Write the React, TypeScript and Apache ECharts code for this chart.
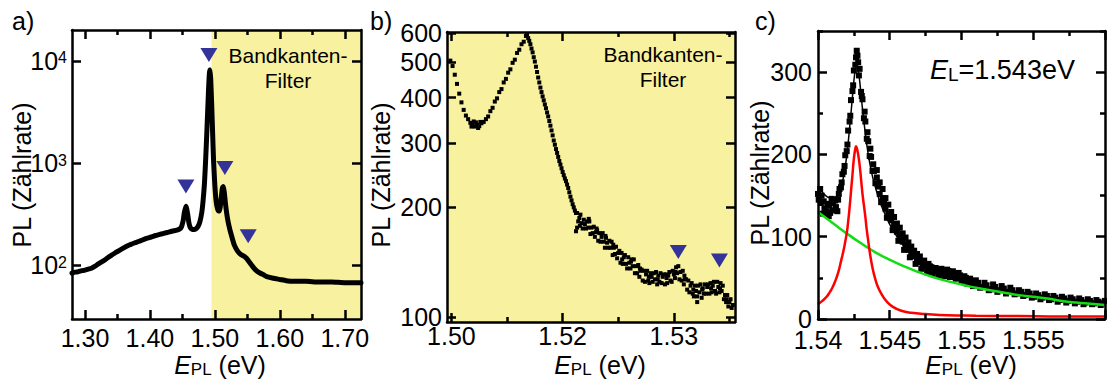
import React, { useEffect, useRef } from 'react';
import * as echarts from 'echarts';

const FONT = '"Liberation Sans", Arial, Helvetica, sans-serif';
const YELLOW = '#f8f19f';
const MARK = '#333399';
const TICK_FONT = 25;

// ---------- panel a: overview spectrum (log scale) ----------
const aSpectrum: [number, number][] = [
  [1.280, 84], [1.285, 86], [1.290, 87], [1.295, 89], [1.300, 90], [1.305, 92], [1.310, 94],
  [1.315, 98], [1.320, 103], [1.325, 108], [1.330, 113], [1.335, 119], [1.340, 125],
  [1.345, 131], [1.350, 137], [1.355, 143], [1.360, 149], [1.365, 155], [1.370, 160],
  [1.375, 165], [1.380, 169], [1.385, 174], [1.390, 179], [1.395, 184], [1.400, 188],
  [1.405, 193], [1.410, 197], [1.415, 201], [1.420, 205], [1.425, 209], [1.430, 213],
  [1.435, 217], [1.440, 220], [1.445, 226], [1.448, 234], [1.451, 270], [1.453, 330],
  [1.4555, 380], [1.458, 320], [1.460, 262], [1.462, 236], [1.465, 226], [1.468, 225],
  [1.471, 229], [1.474, 240], [1.477, 268], [1.480, 335], [1.482, 440], [1.484, 640],
  [1.486, 1150], [1.488, 2300], [1.490, 4800], [1.4915, 7500], [1.4925, 8200],
  [1.4935, 6800], [1.495, 3900], [1.4965, 2000], [1.498, 1050], [1.500, 600],
  [1.502, 420], [1.504, 360], [1.506, 340], [1.508, 365], [1.510, 470], [1.5115, 570],
  [1.513, 590], [1.5145, 520], [1.516, 420], [1.518, 330], [1.520, 275], [1.523, 225],
  [1.526, 192], [1.530, 158], [1.535, 138], [1.540, 128], [1.545, 123], [1.549, 117],
  [1.553, 108], [1.557, 100], [1.561, 93], [1.565, 88], [1.570, 84], [1.575, 81],
  [1.580, 78], [1.590, 75], [1.600, 73], [1.610, 71], [1.620, 70], [1.640, 70],
  [1.660, 69], [1.680, 69], [1.700, 68], [1.725, 68],
];
const aMarkers: [number, number][] = [[1.4908, 11400], [1.4554, 590], [1.5154, 898], [1.5513, 193]];
const aFilterStart = 1.4948;
const aXMajor = [1.3, 1.4, 1.5, 1.6, 1.7];
const aXMinor = [1.35, 1.45, 1.55, 1.65];
const aYMajor = [100, 1000, 10000];

// ---------- panel b: zoom on filter region (log scale) ----------
const bSpectrum: [number, number][] = [
  [1.5099, 505], [1.5101, 488], [1.5103, 462], [1.5105, 436], [1.5107, 410], [1.5109, 388],
  [1.5111, 370], [1.5113, 357], [1.5115, 349], [1.5117, 341], [1.5118, 333], [1.5119, 338],
  [1.5120, 344], [1.5121, 333], [1.5122, 342], [1.5123, 337], [1.5124, 330], [1.5125, 334],
  [1.5126, 343], [1.5127, 340], [1.5129, 343], [1.5131, 349], [1.5133, 355], [1.5135, 367],
  [1.5137, 375], [1.5139, 390], [1.5141, 398], [1.5143, 414], [1.5145, 422], [1.5147, 440],
  [1.5149, 450], [1.5151, 468], [1.5153, 478], [1.5155, 498], [1.5157, 508], [1.5159, 530],
  [1.5161, 541], [1.5163, 560], [1.5165, 569], [1.5167, 590], [1.5168, 596],
  [1.5169, 582], [1.5170, 572], [1.5171, 560], [1.5172, 545], [1.5173, 532], [1.5174, 516],
  [1.5175, 502], [1.5176, 486], [1.5177, 470], [1.5178, 454], [1.5179, 440], [1.5180, 426],
  [1.5181, 414], [1.5182, 403], [1.5183, 393], [1.5184, 383], [1.5185, 374], [1.5186, 364],
  [1.5187, 355], [1.5188, 345], [1.5189, 335], [1.5190, 325], [1.5191, 315], [1.5192, 305],
  [1.5193, 297], [1.5194, 289], [1.5195, 282], [1.5196, 275], [1.5197, 268], [1.5198, 262],
  [1.5199, 256], [1.5200, 250], [1.5201, 245], [1.5202, 240], [1.5203, 236], [1.5204, 231],
  [1.5205, 226], [1.5206, 220], [1.5207, 214], [1.5208, 209], [1.5209, 204], [1.5210, 200],
  [1.5211, 196], [1.5212, 193], [1.5212, 172], [1.5213, 176],
  [1.5213, 193], [1.5214, 183], [1.5215, 187], [1.5216, 191], [1.5217, 181], [1.5218, 175],
  [1.5219, 185], [1.5220, 180], [1.5221, 175], [1.5222, 183], [1.5223, 176], [1.5224, 183],
  [1.5225, 169], [1.5226, 176], [1.5227, 170], [1.5228, 177], [1.5229, 166], [1.5230, 171],
  [1.5231, 173], [1.5232, 162], [1.5233, 170], [1.5234, 161], [1.5235, 166], [1.5236, 170],
  [1.5237, 161], [1.5238, 155], [1.5239, 165], [1.5240, 160], [1.5241, 155], [1.5242, 162],
  [1.5243, 155], [1.5244, 161], [1.5245, 148], [1.5246, 155], [1.5247, 149], [1.5248, 156],
  [1.5249, 145], [1.5250, 150], [1.5251, 152], [1.5252, 141], [1.5253, 150], [1.5254, 140],
  [1.5255, 146], [1.5256, 148], [1.5257, 140], [1.5258, 136], [1.5259, 146], [1.5260, 141],
  [1.5261, 136], [1.5262, 144], [1.5263, 138], [1.5264, 144], [1.5265, 132], [1.5266, 138],
  [1.5267, 132], [1.5268, 139], [1.5269, 129], [1.5270, 134], [1.5271, 135], [1.5272, 126],
  [1.5273, 134], [1.5274, 125], [1.5275, 131], [1.5276, 134], [1.5277, 126], [1.5278, 124],
  [1.5279, 132], [1.5280, 129], [1.5281, 125], [1.5282, 132], [1.5283, 127], [1.5284, 133],
  [1.5285, 123], [1.5286, 130], [1.5287, 125], [1.5288, 132], [1.5289, 124], [1.5290, 129],
  [1.5291, 131], [1.5292, 123], [1.5293, 131], [1.5294, 124], [1.5295, 130], [1.5296, 133],
  [1.5297, 126], [1.5298, 125], [1.5299, 134], [1.5300, 131], [1.5301, 128], [1.5302, 137],
  [1.5303, 132], [1.5304, 138], [1.5305, 127], [1.5306, 133], [1.5307, 126], [1.5308, 134],
  [1.5309, 123], [1.5310, 127], [1.5311, 127], [1.5312, 119], [1.5313, 126], [1.5314, 117],
  [1.5315, 122], [1.5316, 124], [1.5317, 116], [1.5318, 114], [1.5319, 122], [1.5320, 118],
  [1.5321, 114], [1.5322, 122], [1.5323, 117], [1.5324, 123], [1.5325, 113], [1.5326, 120],
  [1.5327, 116], [1.5328, 123], [1.5329, 116], [1.5330, 121], [1.5331, 123], [1.5332, 116],
  [1.5333, 124], [1.5334, 117], [1.5335, 122], [1.5336, 125], [1.5337, 118], [1.5338, 116],
  [1.5339, 125], [1.5340, 121], [1.5341, 117], [1.5342, 124], [1.5343, 118], [1.5344, 122],
  [1.5345, 112], [1.5346, 115], [1.5347, 110], [1.5348, 115], [1.5349, 107], [1.5350, 110],
  [1.5351, 112], [1.5352, 106], [1.5353, 108],
  [1.52155, 178], [1.52235, 186], [1.52305, 175], [1.52385, 167], [1.52455, 158],
  [1.52535, 144], [1.52615, 142], [1.52695, 136], [1.52775, 129], [1.52855, 127],
  [1.52935, 128], [1.53015, 133], [1.53095, 130], [1.53175, 119], [1.53255, 119],
  [1.53335, 120], [1.53415, 120], [1.53475, 112], [1.5321, 110],
];
const bMarkers: [number, number][] = [[1.5304, 151], [1.5341, 143]];
const bXMajor = [1.51, 1.52, 1.53];
const bXMajorLabels = ['1.50', '1.52', '1.53'];
const bXMinor = [1.515, 1.525, 1.535];
const bYMajor = [100, 200, 300, 400, 500, 600];

// ---------- panel c: fit at E_L = 1.543 eV (linear) ----------
const cData: [number, number][] = [
  [1.5400, 152], [1.5402, 141], [1.5404, 143], [1.5406, 131], [1.5408, 138], [1.5410, 132],
  [1.5412, 144], [1.5414, 145], [1.5415, 158], [1.5416, 160], [1.5417, 176], [1.5418, 179],
  [1.5419, 199], [1.5420, 204], [1.5421, 229], [1.5422, 240], [1.5423, 266], [1.5424, 277],
  [1.5425, 302], [1.5426, 309], [1.5427, 326], [1.5428, 312], [1.5429, 304], [1.5430, 276],
  [1.5431, 267], [1.5432, 244], [1.5433, 240], [1.5434, 219], [1.5435, 216], [1.5436, 198],
  [1.5437, 197], [1.5438, 180], [1.5439, 180], [1.5440, 165], [1.5442, 161], [1.5444, 142],
  [1.5446, 140], [1.5448, 123], [1.5450, 123], [1.5452, 108], [1.5454, 109], [1.5456, 95],
  [1.5458, 97], [1.5460, 84], [1.5462, 87], [1.5464, 75], [1.5466, 79], [1.5468, 67],
  [1.5470, 72], [1.5472, 61], [1.5474, 67], [1.5476, 57], [1.5478, 64], [1.5480, 55],
  [1.5482, 62], [1.5484, 53], [1.5486, 61], [1.5488, 52], [1.5490, 60], [1.5492, 51],
  [1.5494, 58], [1.5496, 49], [1.5498, 56], [1.5500, 46], [1.5502, 52], [1.5504, 43],
  [1.5506, 49], [1.5508, 40], [1.5510, 47], [1.5513, 38], [1.5516, 44], [1.5519, 35],
  [1.5522, 42], [1.5525, 33], [1.5528, 40], [1.5531, 31], [1.5534, 38], [1.5537, 30],
  [1.5540, 35], [1.5543, 28], [1.5546, 33], [1.5549, 26], [1.5552, 31], [1.5555, 24],
  [1.5558, 30], [1.5561, 23], [1.5564, 28], [1.5567, 21], [1.5570, 27], [1.5573, 20],
  [1.5576, 26], [1.5579, 19], [1.5582, 25], [1.5585, 18], [1.5588, 24], [1.5591, 18],
  [1.5594, 23], [1.5597, 17], [1.5600, 22],
  [1.54005, 145], [1.54025, 150], [1.54045, 134], [1.54065, 140], [1.54085, 129],
  [1.54105, 141], [1.54125, 136], [1.54145, 152], [1.54165, 166], [1.54185, 186],
  [1.54205, 212], [1.54225, 247], [1.54245, 284], [1.54265, 318], [1.54275, 320],
  [1.54285, 296], [1.54305, 271], [1.54325, 252], [1.54345, 227], [1.54365, 207],
  [1.54385, 188], [1.5441, 172], [1.5443, 152], [1.5445, 147], [1.5447, 134], [1.5449, 128],
  [1.5451, 120], [1.5453, 113], [1.5455, 106], [1.5457, 100], [1.5459, 94], [1.5461, 90],
  [1.5463, 84], [1.5465, 81], [1.5467, 76], [1.5469, 73], [1.5471, 69], [1.5473, 66],
  [1.5475, 64], [1.5477, 61], [1.5479, 63], [1.5481, 58], [1.5483, 60], [1.5485, 55],
  [1.5487, 59], [1.5489, 54], [1.5491, 58], [1.5493, 53], [1.5495, 55], [1.5497, 51],
  [1.5499, 53], [1.5501, 48], [1.5503, 50], [1.5505, 44], [1.5507, 46], [1.5509, 42],
  [1.55115, 44], [1.55145, 39], [1.55175, 41], [1.55205, 36], [1.55235, 39], [1.55265, 35],
  [1.55295, 37], [1.55325, 33], [1.55355, 35], [1.55385, 31], [1.55415, 33], [1.55445, 29],
  [1.55475, 31], [1.55505, 27], [1.55535, 29], [1.55565, 26], [1.55595, 28], [1.55625, 24],
  [1.55655, 26], [1.55685, 23], [1.55715, 25], [1.55745, 22], [1.55775, 24], [1.55805, 21],
  [1.55835, 23], [1.55865, 20], [1.55895, 22], [1.55925, 19], [1.55955, 21], [1.55985, 19],
  [1.5441, 181], [1.5443, 166], [1.5445, 158], [1.5447, 147], [1.5449, 139], [1.5451, 130],
  [1.5453, 124], [1.5455, 116], [1.5457, 111], [1.5459, 104], [1.5461, 99], [1.5463, 93],
  [1.5465, 88], [1.5467, 83], [1.5469, 79], [1.5471, 76], [1.5474, 71], [1.5477, 67],
  [1.54015, 158], [1.54035, 128], [1.54075, 125], [1.54095, 146], [1.54135, 131],
];
const cFit: [number, number][] = [
  [1.5400, 160], [1.5403, 154], [1.5406, 149], [1.5409, 147], [1.5412, 148], [1.5414, 152],
  [1.5416, 160], [1.5418, 175], [1.5420, 198], [1.5422, 232], [1.5424, 270], [1.5425, 289],
  [1.5426, 303], [1.5427, 308], [1.5428, 302], [1.5429, 290], [1.5430, 272], [1.5432, 240],
  [1.5434, 212], [1.5436, 190], [1.5438, 173], [1.5440, 160], [1.5443, 143], [1.5446, 130],
  [1.5450, 115], [1.5455, 100], [1.5460, 88], [1.5466, 77], [1.5472, 68], [1.5480, 60],
  [1.5490, 52], [1.5500, 46], [1.5515, 40], [1.5530, 35], [1.5545, 31], [1.5560, 27],
  [1.5575, 24], [1.5590, 22], [1.5600, 21],
];
const cPeak: [number, number][] = [
  [1.5400, 18], [1.5403, 22], [1.5406, 27], [1.5408, 32], [1.5410, 38], [1.5412, 46],
  [1.5414, 56], [1.5416, 70], [1.5418, 85], [1.5420, 104], [1.5421, 118], [1.5422, 135],
  [1.5423, 155], [1.5424, 175], [1.5425, 195], [1.5426, 207], [1.54265, 210], [1.5427, 208],
  [1.5428, 200], [1.5429, 187], [1.5430, 170], [1.5431, 152], [1.5432, 138], [1.5433, 124],
  [1.5434, 108], [1.5435, 95], [1.5436, 82], [1.5438, 62], [1.5440, 48], [1.5442, 38],
  [1.5445, 28], [1.5448, 21], [1.5452, 15], [1.5458, 10], [1.5465, 7.5], [1.5475, 6],
  [1.5490, 4.5], [1.5510, 4], [1.5540, 3.5], [1.5570, 3], [1.5600, 3],
];
const cBackground: [number, number][] = [
  [1.5400, 130], [1.5410, 117], [1.5420, 104], [1.5430, 92], [1.5440, 81], [1.5450, 72],
  [1.5460, 64], [1.5470, 57], [1.5480, 51], [1.5490, 46], [1.5500, 42], [1.5510, 38],
  [1.5520, 35], [1.5530, 32], [1.5540, 29], [1.5550, 27], [1.5560, 25], [1.5570, 22],
  [1.5580, 20], [1.5590, 18.5], [1.5600, 17],
];
const cXMajor = [1.54, 1.545, 1.55, 1.555, 1.56];
const cXLabels = [1.54, 1.545, 1.55, 1.555];
const cXMinor = [1.5425, 1.5475, 1.5525, 1.5575];
const cYMajor = [0, 100, 200, 300];
const cYMinor = [50, 150, 250, 350];

const MAJOR_LEN = 9;
const MINOR_LEN = 5;

function axis(o: {
  grid: number; type: 'value' | 'log'; min: number; max: number;
  pos: string; ticks: number[]; len: number; line: boolean;
  labels?: number[]; fmt?: (v: number) => string; rich?: any; margin?: number; lh?: number;
}) {
  const a: any = {
    gridIndex: o.grid,
    type: o.type,
    min: o.min,
    max: o.max,
    position: o.pos,
    z: 5,
    axisLine: { show: o.line, onZero: false, lineStyle: { color: '#000', width: 2.5 } },
    axisTick: { show: true, inside: true, length: o.len, customValues: o.ticks, lineStyle: { color: '#000', width: 2.5 } },
    axisLabel: o.labels
      ? {
          show: true, customValues: o.labels, formatter: o.fmt, color: '#000',
          fontSize: TICK_FONT, fontFamily: FONT, margin: o.margin ?? 6, lineHeight: o.lh ?? 20, rich: o.rich,
        }
      : { show: false },
    splitLine: { show: false },
    minorTick: { show: false },
    minorSplitLine: { show: false },
    axisPointer: { show: false },
  };
  if (o.type === 'log') a.logBase = 10;
  return a;
}

const fmt2 = (v: number) => v.toFixed(2);
const fmtPlain = (v: number) => String(+v.toFixed(4));
const fmtB = (v: number) => {
  const i = bXMajor.findIndex((t) => Math.abs(t - v) < 1e-7);
  return i >= 0 ? bXMajorLabels[i] : '';
};
const fmtPow = (v: number) => `10{sup|${Math.round(Math.log10(v))}}`;

const A = { xmin: 1.28, xmax: 1.725, ymin: 30, ymax: 20000 };
const B = { xmin: 1.5096, xmax: 1.5355, ymin: 97, ymax: 605 };
const C = { xmin: 1.54, xmax: 1.56, ymin: 0, ymax: 350 };

const xAxes = [
  axis({ grid: 0, type: 'value', min: A.xmin, max: A.xmax, pos: 'bottom', ticks: aXMajor, len: MAJOR_LEN, line: true, labels: aXMajor, fmt: fmt2, margin: 9 }),
  axis({ grid: 0, type: 'value', min: A.xmin, max: A.xmax, pos: 'bottom', ticks: aXMinor, len: MINOR_LEN, line: false }),
  axis({ grid: 0, type: 'value', min: A.xmin, max: A.xmax, pos: 'top', ticks: aXMajor, len: MAJOR_LEN, line: true }),
  axis({ grid: 0, type: 'value', min: A.xmin, max: A.xmax, pos: 'top', ticks: aXMinor, len: MINOR_LEN, line: false }),
  axis({ grid: 1, type: 'value', min: B.xmin, max: B.xmax, pos: 'bottom', ticks: bXMajor, len: MAJOR_LEN, line: true, labels: bXMajor, fmt: fmtB, margin: 4 }),
  axis({ grid: 1, type: 'value', min: B.xmin, max: B.xmax, pos: 'bottom', ticks: bXMinor, len: MINOR_LEN, line: false }),
  axis({ grid: 1, type: 'value', min: B.xmin, max: B.xmax, pos: 'top', ticks: bXMajor, len: MAJOR_LEN, line: true }),
  axis({ grid: 1, type: 'value', min: B.xmin, max: B.xmax, pos: 'top', ticks: bXMinor, len: MINOR_LEN, line: false }),
  axis({ grid: 2, type: 'value', min: C.xmin, max: C.xmax, pos: 'bottom', ticks: cXMajor, len: MAJOR_LEN, line: true, labels: cXLabels, fmt: fmtPlain, margin: 11 }),
  axis({ grid: 2, type: 'value', min: C.xmin, max: C.xmax, pos: 'bottom', ticks: cXMinor, len: MINOR_LEN, line: false }),
  axis({ grid: 2, type: 'value', min: C.xmin, max: C.xmax, pos: 'top', ticks: cXMajor, len: MAJOR_LEN, line: true }),
  axis({ grid: 2, type: 'value', min: C.xmin, max: C.xmax, pos: 'top', ticks: cXMinor, len: MINOR_LEN, line: false }),
];

const supRich = { sup: { fontSize: 16, lineHeight: 14, verticalAlign: 'top', fontFamily: FONT, color: '#000' } };

const yAxes = [
  axis({ grid: 0, type: 'log', min: A.ymin, max: A.ymax, pos: 'left', ticks: aYMajor, len: MAJOR_LEN, line: true, labels: aYMajor, fmt: fmtPow, rich: supRich, margin: 5, lh: 22 }),
  axis({ grid: 0, type: 'log', min: A.ymin, max: A.ymax, pos: 'right', ticks: aYMajor, len: MAJOR_LEN, line: true }),
  axis({ grid: 1, type: 'log', min: B.ymin, max: B.ymax, pos: 'left', ticks: bYMajor, len: MAJOR_LEN, line: true, labels: bYMajor, fmt: (v) => String(v), margin: 5 }),
  axis({ grid: 1, type: 'log', min: B.ymin, max: B.ymax, pos: 'right', ticks: bYMajor, len: MAJOR_LEN, line: true }),
  axis({ grid: 2, type: 'value', min: C.ymin, max: C.ymax, pos: 'left', ticks: cYMajor, len: MAJOR_LEN, line: true, labels: cYMajor, fmt: (v) => String(v), margin: 6 }),
  axis({ grid: 2, type: 'value', min: C.ymin, max: C.ymax, pos: 'left', ticks: cYMinor, len: MINOR_LEN, line: false }),
  axis({ grid: 2, type: 'value', min: C.ymin, max: C.ymax, pos: 'right', ticks: cYMajor, len: MAJOR_LEN, line: true }),
  axis({ grid: 2, type: 'value', min: C.ymin, max: C.ymax, pos: 'right', ticks: cYMinor, len: MINOR_LEN, line: false }),
];

const triangle = (xi: number, yi: number, data: [number, number][]) => ({
  type: 'scatter', xAxisIndex: xi, yAxisIndex: yi, data, symbol: 'triangle', symbolRotate: 180,
  symbolSize: [17, 14], itemStyle: { color: MARK, opacity: 1 }, z: 6, silent: true,
});

const TITLE_Y = 365;
const epl = (x: number) => ({
  type: 'text', x, y: TITLE_Y,
  style: {
    text: '{e|E}{s|PL}{n| (eV)}', align: 'center', verticalAlign: 'middle', fill: '#000',
    rich: {
      e: { fontSize: 25, lineHeight: 25, fontStyle: 'italic', fontFamily: FONT, fill: '#000' },
      s: { fontSize: 17, lineHeight: 6, verticalAlign: 'bottom', fontFamily: FONT, fill: '#000' },
      n: { fontSize: 25, lineHeight: 25, fontFamily: FONT, fill: '#000' },
    },
  },
});
const plTitle = (x: number, y: number) => ({
  type: 'text', x, y, rotation: Math.PI / 2,
  style: { text: 'PL (Zählrate)', align: 'center', verticalAlign: 'middle', fontSize: 25, fontFamily: FONT, fill: '#000' },
});
const panelTag = (x: number, t: string) => ({
  type: 'text', x, y: 21,
  style: { text: t, align: 'left', verticalAlign: 'middle', fontSize: 25, fontFamily: FONT, fill: '#000' },
});
const filterNote = (x: number, y: number) => ({
  type: 'text', x, y, z: 20,
  style: { text: 'Bandkanten-\nFilter', align: 'center', verticalAlign: 'middle', fontSize: 21, lineHeight: 25, fontFamily: FONT, fill: '#000' },
});

const option: any = {
  animation: false,
  backgroundColor: '#ffffff',
  grid: [
    { left: 72, top: 30, width: 289, height: 289, containLabel: false },
    { left: 447, top: 32, width: 288, height: 290, containLabel: false, show: true, backgroundColor: YELLOW, borderWidth: 0 },
    { left: 818, top: 31, width: 287, height: 288, containLabel: false },
  ],
  xAxis: xAxes,
  yAxis: yAxes,
  series: [
    {
      type: 'line', xAxisIndex: 0, yAxisIndex: 0, data: aSpectrum, showSymbol: false, smooth: 0.2,
      lineStyle: { color: '#000', width: 5, join: 'round', cap: 'round' }, z: 3, silent: true,
      markArea: {
        silent: true,
        itemStyle: { color: YELLOW, opacity: 1 },
        data: [[{ xAxis: aFilterStart }, { xAxis: A.xmax }]],
      },
    },
    triangle(0, 0, aMarkers),
    {
      type: 'scatter', xAxisIndex: 4, yAxisIndex: 2, data: bSpectrum, symbol: 'rect', symbolSize: 4,
      itemStyle: { color: '#000', opacity: 1 }, z: 3, silent: true,
    },
    triangle(4, 2, bMarkers),
    {
      type: 'scatter', xAxisIndex: 8, yAxisIndex: 4, data: cData, symbol: 'rect', symbolSize: 6,
      itemStyle: { color: '#000', opacity: 1 }, z: 3, silent: true,
    },
    {
      type: 'line', xAxisIndex: 8, yAxisIndex: 4, data: cFit, showSymbol: false, smooth: true,
      lineStyle: { color: '#000', width: 1.5 }, z: 4, silent: true,
    },
    {
      type: 'line', xAxisIndex: 8, yAxisIndex: 4, data: cBackground, showSymbol: false, smooth: true,
      lineStyle: { color: '#14dc14', width: 2.5 }, z: 4, silent: true,
    },
    {
      type: 'line', xAxisIndex: 8, yAxisIndex: 4, data: cPeak, showSymbol: false, smooth: true,
      lineStyle: { color: '#ff0000', width: 2.5 }, z: 4, silent: true,
    },
  ],
  graphic: [
    panelTag(12, 'a)'),
    panelTag(370, 'b)'),
    panelTag(755, 'c)'),
    plTitle(22, 175),
    plTitle(381, 175),
    plTitle(760, 173),
    epl(220),
    epl(600),
    epl(971),
    filterNote(288, 68),
    filterNote(663, 67),
    {
      type: 'text', x: 930, y: 70, z: 20,
      style: {
        text: '{e|E}{s|L}{n|=1.543eV}', align: 'left', verticalAlign: 'middle', fill: '#000',
        rich: {
          e: { fontSize: 27, lineHeight: 27, fontStyle: 'italic', fontFamily: FONT, fill: '#000' },
          s: { fontSize: 19, lineHeight: 6, verticalAlign: 'bottom', fontFamily: FONT, fill: '#000' },
          n: { fontSize: 27, lineHeight: 27, fontFamily: FONT, fill: '#000' },
        },
      },
    },
  ],
};

export default function App() {
  const ref = useRef<HTMLDivElement>(null);
  useEffect(() => {
    if (!ref.current) return;
    const chart = echarts.init(ref.current, null, { renderer: 'svg' });
    chart.setOption(option);
    return () => chart.dispose();
  }, []);
  return (
    <div
      ref={ref}
      style={{ position: 'absolute', left: 0, top: 0, width: 1107, height: 385, background: '#fff' }}
    />
  );
}
